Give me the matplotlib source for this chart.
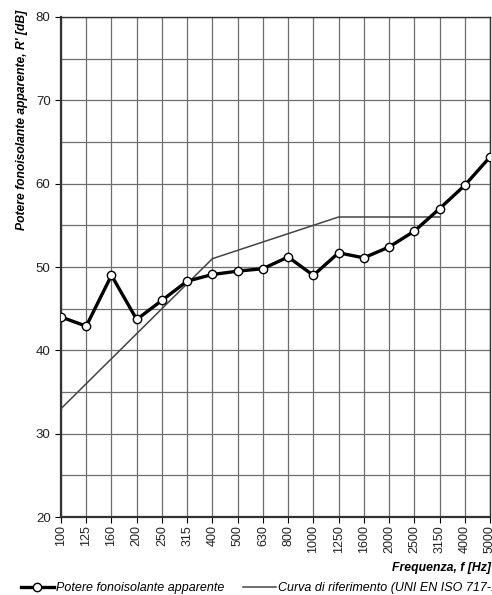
import matplotlib.pyplot as plt
from matplotlib.ticker import MultipleLocator

plt.rcParams['font.family'] = ['Liberation Sans', 'DejaVu Sans']

freqs = ["100", "125", "160", "200", "250", "315", "400", "500", "630", "800",
         "1000", "1250", "1600", "2000", "2500", "3150", "4000", "5000"]
r_measured = [44.0, 42.9, 49.0, 43.7, 46.0, 48.3, 49.1, 49.5, 49.8, 51.2,
              49.0, 51.7, 51.1, 52.4, 54.3, 57.0, 59.8, 63.2]
# reference curve stops at 3150 Hz
r_reference = [33, 36, 39, 42, 45, 48, 51, 52, 53, 54, 55, 56, 56, 56, 56, 56]

x = list(range(len(freqs)))

fig = plt.figure(figsize=(4.92, 5.95), dpi=100)
ax = fig.add_axes([61 / 492, 78 / 595, 429 / 492, 500 / 595])

ax.plot(x[:len(r_reference)], r_reference, color="#444444", lw=1.1,
        label="Curva di riferimento (UNI EN ISO 717-1)", zorder=3)
ax.plot(x, r_measured, color="black", lw=2.4, marker="o", ms=6,
        mfc="white", mec="black", mew=1.0,
        label="Potere fonoisolante apparente", zorder=4)

ax.set_xlim(0, len(freqs) - 1)
ax.set_ylim(20, 80)
ax.set_xticks(x)
ax.set_xticklabels(freqs, rotation=90, fontsize=9, color="#222222")
ax.yaxis.set_major_locator(MultipleLocator(10))
ax.yaxis.set_minor_locator(MultipleLocator(5))
ax.tick_params(axis="y", labelsize=9.5, labelcolor="#222222", length=4, direction="out")
ax.tick_params(axis="y", which="minor", length=0)
ax.tick_params(axis="x", length=4, direction="out", pad=2)

ax.grid(True, which="both", color="#6e6e6e", lw=0.9)
ax.set_axisbelow(True)
for s in ax.spines.values():
    s.set_color("#333333")
    s.set_linewidth(1.0)
ax.spines["left"].set_linewidth(1.6)
ax.spines["bottom"].set_linewidth(1.6)

fig.text(22 / 492, 1 - 120 / 595, "Potere fonoisolante apparente, R' [dB]",
         rotation=90, ha="center", va="center", fontsize=8.7,
         fontweight="bold", fontstyle="italic")
fig.text(491 / 492, 1 - 568 / 595, "Frequenza, f [Hz]", ha="right", va="center",
         fontsize=8.8, fontweight="bold", fontstyle="italic")

handles, labels = ax.get_legend_handles_labels()
fig.legend(handles[::-1], labels[::-1], loc="center left",
           bbox_to_anchor=(16 / 492, 1 - 588 / 595), ncol=2, frameon=False,
           prop={"size": 9, "style": "italic"}, handlelength=2.6,
           handletextpad=0.2, columnspacing=1.5, borderaxespad=0)

fig.savefig("out.png", dpi=100, facecolor="white")
